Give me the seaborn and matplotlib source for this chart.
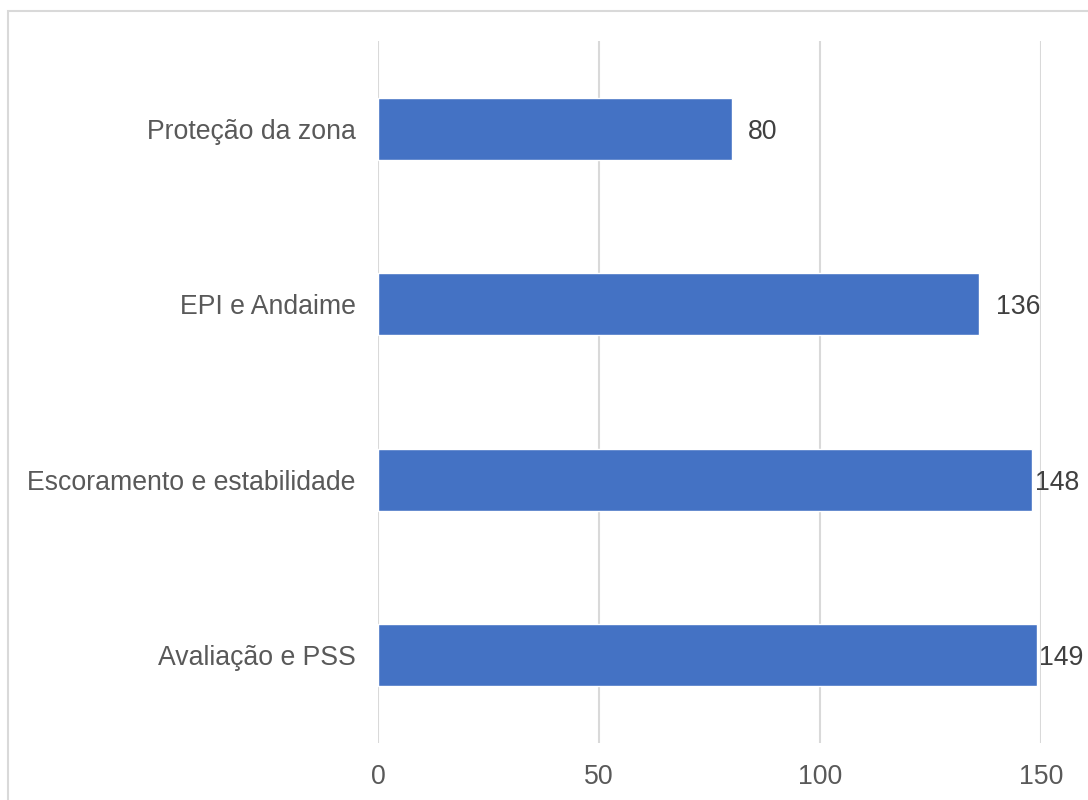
import matplotlib
matplotlib.use("Agg")
import matplotlib.pyplot as plt
import seaborn as sns
import pandas as pd
from matplotlib.patches import Rectangle

# dados
categorias = ["Proteção da zona", "EPI e Andaime", "Escoramento e estabilidade", "Avaliação e PSS"]
valores = [80, 136, 148, 149]
x_ticks = [0, 50, 100, 150]

df = pd.DataFrame({"categoria": categorias, "valor": valores})

sns.set_theme(style="white")
plt.rcParams["font.family"] = ["Liberation Sans", "DejaVu Sans"]

fig = plt.figure(figsize=(10.88, 8), dpi=100)
ax = fig.add_axes([378 / 1088, 57 / 800, (1041 - 378) / 1088, (743 - 41) / 800])

sns.barplot(data=df, x="valor", y="categoria", order=categorias, orient="h",
            color="#4472C4", saturation=1, width=0.353, ax=ax, zorder=3)

ax.set_xlim(0, 150)
ax.set_ylim(3.5, -0.5)
ax.set_xticks(x_ticks)
ax.grid(axis="x", color="#D9D9D9", linewidth=1.5, zorder=0)
ax.grid(axis="y", visible=False)
for s in ax.spines.values():
    s.set_visible(False)
ax.set_xlabel("")
ax.set_ylabel("")
ax.tick_params(axis="both", length=0, labelsize=19.2, colors="#595959")
ax.tick_params(axis="x", pad=15)
ax.tick_params(axis="y", pad=16)

# rótulos de valor
for i, v in enumerate(valores):
    pad = 12 if v < 140 else 2
    ax.annotate(str(v), xy=(v, i), xytext=(pad, 0), textcoords="offset points",
                ha="left", va="center_baseline", fontsize=19.2, color="#404040",
                annotation_clip=False)

# borda do gráfico
fig.patches.append(Rectangle((8 / 1088, -0.05), 1.1, 1 - 11 / 800 + 0.05,
                             transform=fig.transFigure, fill=False,
                             edgecolor="#D9D9D9", linewidth=1.5))

fig.savefig("out.png", dpi=100, facecolor="white")
